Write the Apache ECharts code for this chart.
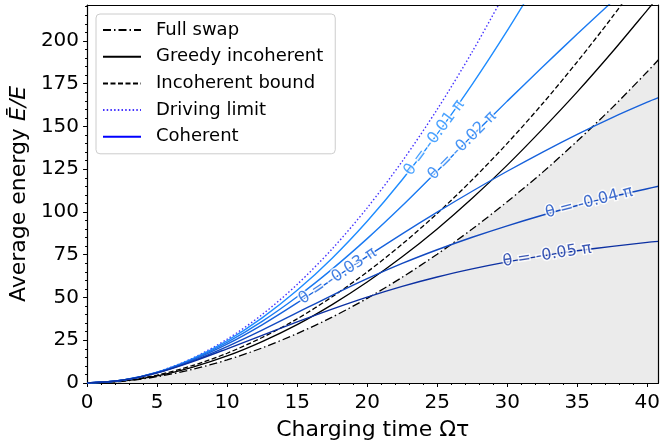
<!DOCTYPE html>
<html><head><meta charset="utf-8">
<script src="https://cdn.jsdelivr.net/npm/echarts@6/dist/echarts.min.js"></script>
<style>html,body{margin:0;padding:0;background:#fff}#c{width:663px;height:446px}</style>
</head><body><div id="c"></div>
<script>
// ---- data ----
const X = [0,2.5,5,7.5,10,12.5,15,17.5,20,22.5,25,27.5,30,32.5,35,37.5,40,40.8];
const fullSwap = [0,1.0,3.7,7.9,13.5,20.5,28.9,38.5,49.5,61.8,75.3,90.0,106,123,141.5,161,182,189];
const greedy   = [0,1.1,4.2,9.2,15.8,24.2,34.1,45.8,59.0,73.8,90.1,108,127.4,148.3,170.2,193.5,218,226];
const incBound = [0,1.2,4.6,10.1,17.4,26.6,37.5,50.4,64.9,81.2,99.1,118.8,140.1,163.1,187.8,214,242];
const driving  = [0,1.6,6.4,14.4,25.6,40,57.6,78.4,102.4,129.6,160,193.6,230.4];
const coh01 = [0,1.6,6.3,14.1,24.7,38.1,54.2,73,94.6,118.8,145.5,174.6,206,239.5];
const coh02 = [0,1.6,6.2,13.7,23.7,36,50.4,66.6,84.4,103.6,123.9,144.5,164.8,184.6,204,223,242];
const coh03 = [0,1.6,6.1,13.3,22.7,34,46.8,60.4,74,87.2,99.9,112.1,123.8,134.9,145.4,155.2,164.2,166.8];
const coh04 = [0,1.6,6.0,12.8,21.3,30.9,41.1,51.3,61,69.9,77.9,85.2,91.9,98.1,103.8,109,113.6,115.0];
const coh05 = [0,1.6,5.9,12.4,20,27.9,35.7,43.2,50.2,56.5,62,66.7,70.8,74.3,77.3,79.9,82.2,82.8];
const coherent = [coh01, coh02, coh03, coh04, coh05];
const cohNames = ['θ = -0.01 π','θ = -0.02 π','θ = -0.03 π','θ = -0.04 π','θ = -0.05 π'];
const labelX = [24.8, 26.8, 17.9, 35.85, 32.85];
const xTicks = [0,5,10,15,20,25,30,35,40];
const yTicks = [0,25,50,75,100,125,150,175,200];
const legendNames = ['Full swap','Greedy incoherent','Incoherent bound','Driving limit','Coherent'];

// ---- styling ----
const XMAX = 40.8, YMAX = 221;
const cohColors = ['#1e8cff','#1a7af2','#1762dc','#1249c0','#0c30a2'];
const FONT = 'DejaVu Sans';

function pts(ys){ return ys.map((y,i)=>[X[i], y]); }
function interp(ys, x){
  for (let i=0;i<ys.length-1;i++){
    if (x>=X[i] && x<=X[i+1]){ const t=(x-X[i])/(X[i+1]-X[i]); return ys[i]+t*(ys[i+1]-ys[i]); }
  }
  return ys[ys.length-1];
}

const chart = echarts.init(document.getElementById('c'), null, {renderer:'canvas'});

function lineSeries(name, ys, color, type, width, extra){
  return Object.assign({
    name, type:'line', data: pts(ys), symbol:'none', smooth:0.3, clip:true,
    color, lineStyle:{color, width, type}, z:3, animation:false
  }, extra||{});
}

function labelData(rots){
  return labelX.map((x,k)=>({
    value:[x, interp(coherent[k], x)],
    label:{formatter: cohNames[k], color: cohColors[k], rotate: rots ? rots[k] : 0}
  }));
}

const baseAxisLabel = {fontSize:20, fontFamily:FONT, color:'#000'};
const option = {
  animation:false,
  grid:{left:87, right:1.5, top:5, bottom:62, containLabel:false},
  legend:{
    orient:'vertical', left:96, top:14,
    data: legendNames,
    itemWidth:38, itemHeight:14, itemGap:6.7,
    padding:[6,12,7,6],
    itemStyle:{opacity:0, borderWidth:0},
    backgroundColor:'rgba(255,255,255,0.8)', borderColor:'#cccccc', borderWidth:1, borderRadius:4,
    textStyle:{fontSize:18, fontFamily:FONT, color:'#000', lineHeight:20, padding:[0,0,0,10]}
  },
  xAxis:[{
    type:'value', min:0, max:XMAX, interval:5, position:'bottom',
    name:'Charging time Ωτ', nameLocation:'middle', nameGap:36,
    nameTextStyle:{fontSize:22, fontFamily:FONT, color:'#000'},
    axisLine:{show:true, onZero:false, lineStyle:{color:'#000', width:1.2}},
    axisTick:{show:true, inside:false, length:4, lineStyle:{color:'#000'}, customValues:xTicks},
    minorTick:{show:true, splitNumber:5, length:2, lineStyle:{color:'#000'}},
    axisLabel:Object.assign({margin:10, customValues:xTicks}, baseAxisLabel),
    splitLine:{show:false}
  },{
    type:'value', min:0, max:XMAX, position:'top',
    axisLine:{show:true, onZero:false, lineStyle:{color:'#000', width:1.2}},
    axisTick:{show:false}, axisLabel:{show:false}, splitLine:{show:false}, z:10
  }],
  yAxis:[{
    type:'value', min:0, max:YMAX, interval:25, position:'left',
    name:'Average energy {i|Ē/E}', nameLocation:'middle', nameGap:47,
    nameTextStyle:{fontSize:22, fontFamily:FONT, color:'#000',
      rich:{i:{fontStyle:'italic', fontSize:22, fontFamily:FONT, color:'#000'}}},
    axisLine:{show:true, onZero:false, lineStyle:{color:'#000', width:1.2}},
    axisTick:{show:true, inside:false, length:4, lineStyle:{color:'#000'}, customValues:yTicks},
    minorTick:{show:true, splitNumber:5, length:2, lineStyle:{color:'#000'}},
    axisLabel:Object.assign({margin:8, customValues:yTicks}, baseAxisLabel),
    splitLine:{show:false}
  },{
    type:'value', min:0, max:YMAX, position:'right',
    axisLine:{show:true, onZero:false, lineStyle:{color:'#000', width:1.2}},
    axisTick:{show:false}, axisLabel:{show:false}, splitLine:{show:false}, z:10
  }],
  series:[
    lineSeries('Full swap', fullSwap, '#000', [8,3,1.5,3], 1.3,
      {areaStyle:{color:'#ebebeb', opacity:1, origin:'start'}, z:1}),
    lineSeries('Greedy incoherent', greedy, '#000', 'solid', 1.3),
    lineSeries('Incoherent bound', incBound, '#000', [5,2.5], 1.3),
    lineSeries('Driving limit', driving, '#4433ff', [1.5,2.2], 1.4),
    ...coherent.map((ys,k)=>lineSeries(cohNames[k], ys, cohColors[k], 'solid', 1.4)),
    {name:'Coherent', type:'line', data:[], symbol:'none', color:'#0000ff', lineStyle:{color:'#0000ff', width:1.6}},
    {type:'scatter', name:'labels', z:10, symbolSize:0, silent:true, animation:false,
     data: labelData(null),
     label:{show:true, position:'inside', fontSize:16, fontFamily:FONT, textBorderColor:'#fff', textBorderWidth:3}}
  ]
};
chart.setOption(option);

const rots = labelX.map((x,k)=>{
  const ys = coherent[k];
  const a = chart.convertToPixel({xAxisIndex:0, yAxisIndex:0}, [x-0.8, interp(ys, x-0.8)]);
  const b = chart.convertToPixel({xAxisIndex:0, yAxisIndex:0}, [x+0.8, interp(ys, x+0.8)]);
  return Math.atan2(a[1]-b[1], b[0]-a[0]) * 180 / Math.PI;
});
chart.setOption({series:[{}, {}, {}, {}, {}, {}, {}, {}, {}, {}, {data: labelData(rots)}]});
</script>
</body></html>
